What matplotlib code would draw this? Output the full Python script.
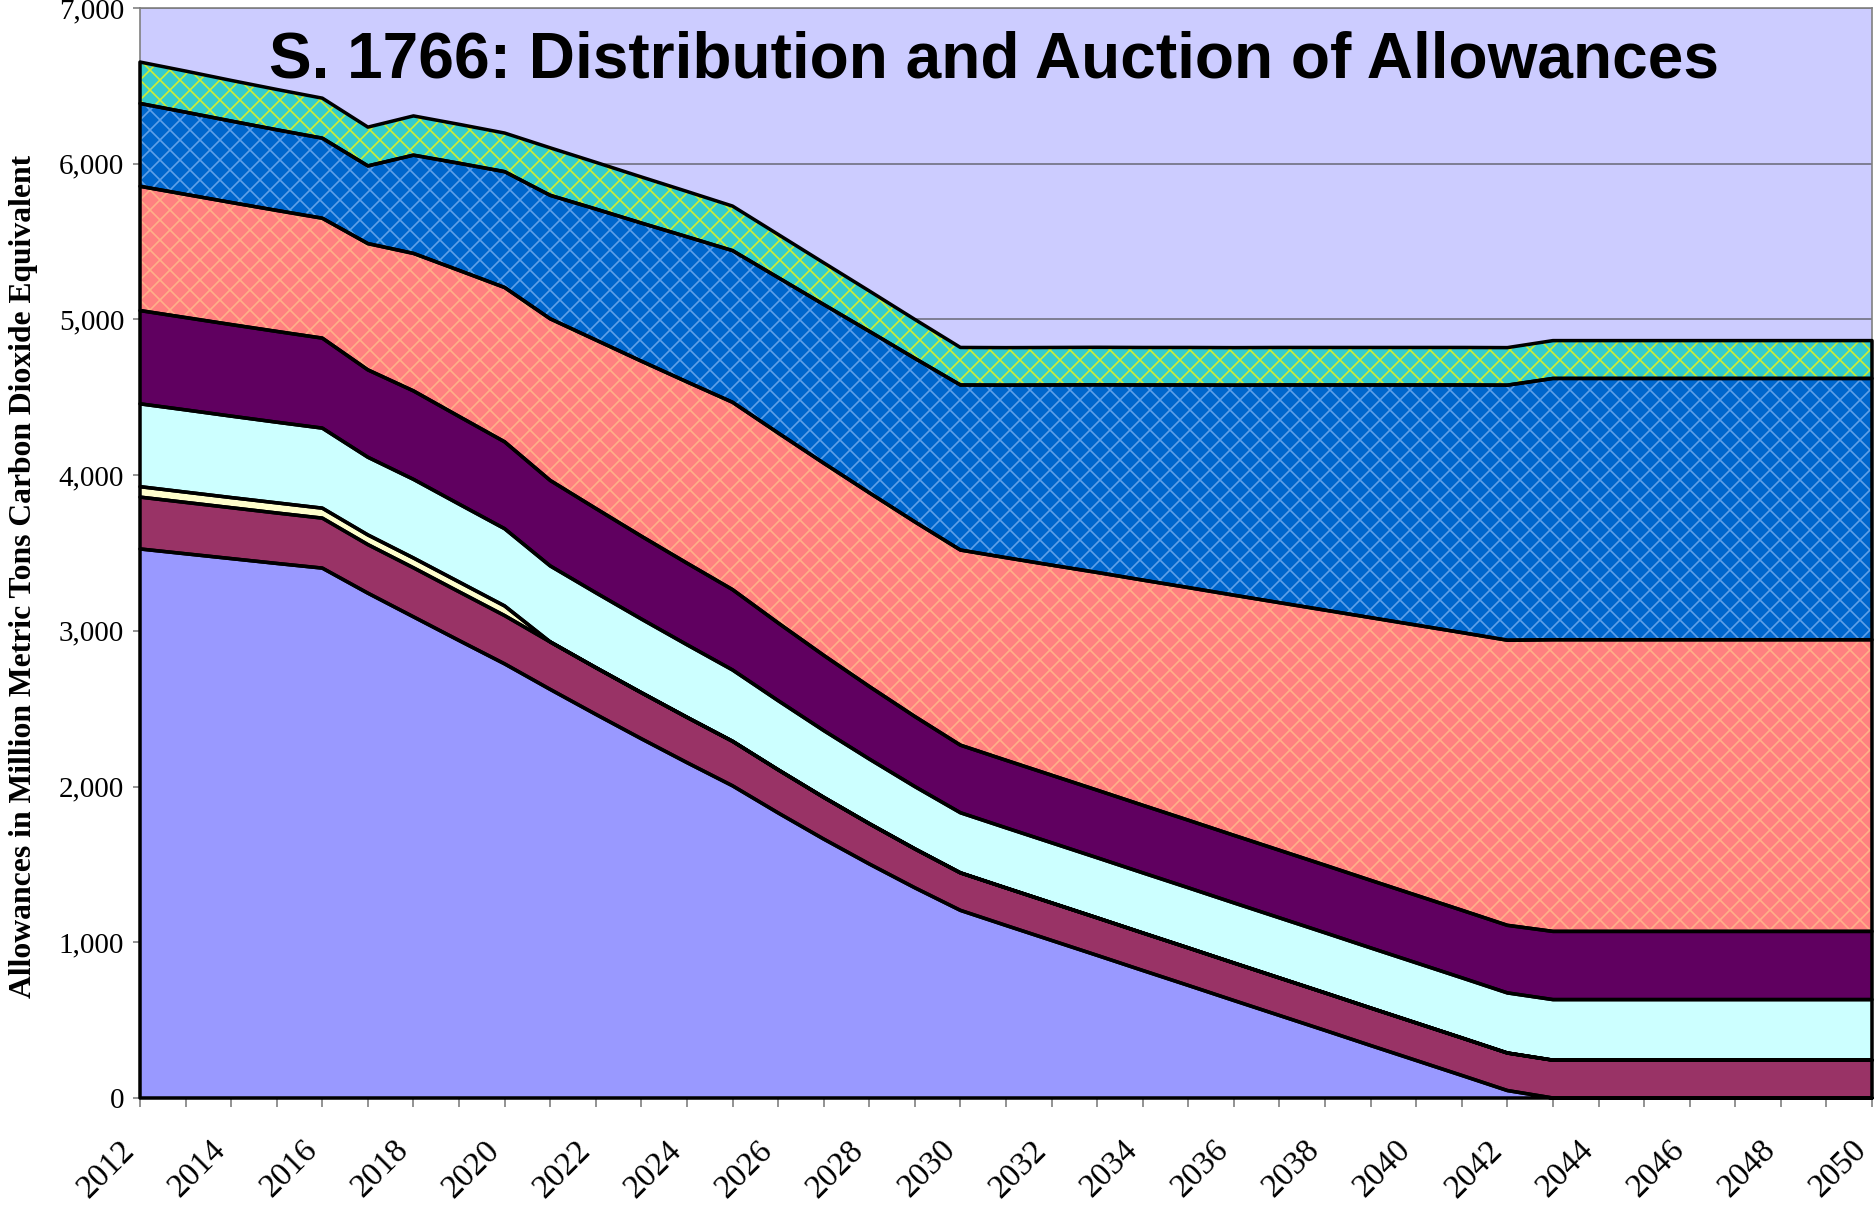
import matplotlib
matplotlib.use("Agg")
import matplotlib.pyplot as plt
import matplotlib.transforms as mtransforms
import numpy as np

years = list(range(2012, 2051))

# allowances by recipient, million metric tons CO2e, stacked bottom -> top
industry = [3526, 3495, 3464, 3433, 3403, 3242, 3090, 2938, 2788, 2624,
            2464, 2307, 2154, 2005, 1831, 1663, 1503, 1350, 1205, 1108,
            1012, 916, 819, 723, 626, 530, 434, 337, 241, 145,
            48, 0, 0, 0, 0, 0, 0, 0, 0]
agriculture = [333, 330, 327, 324, 321, 312, 315, 313, 310, 305,
               300, 296, 291, 286, 277, 268, 259, 250, 241, 241,
               241, 241, 241, 241, 241, 241, 241, 241, 241, 241,
               241, 243, 243, 243, 243, 243, 243, 243, 243]
early_action = [67, 66, 65, 65, 64, 62, 63, 63, 62, 0,
                0, 0, 0, 0, 0, 0, 0, 0, 0, 0,
                0, 0, 0, 0, 0, 0, 0, 0, 0, 0,
                0, 0, 0, 0, 0, 0, 0, 0, 0]
states = [532, 528, 523, 518, 514, 499, 505, 500, 496, 488,
          481, 473, 466, 458, 444, 429, 415, 400, 386, 386,
          386, 386, 386, 386, 386, 386, 386, 386, 386, 386,
          386, 389, 389, 389, 389, 389, 389, 389, 389]
other_free = [599, 593, 588, 583, 578, 561, 568, 563, 558, 549,
              541, 532, 524, 516, 499, 483, 466, 450, 434, 434,
              434, 434, 434, 434, 434, 434, 434, 434, 434, 434,
              434, 438, 438, 438, 438, 438, 438, 438, 438]
auction_a = [798, 791, 784, 777, 770, 811, 883, 938, 991, 1038,
             1082, 1124, 1164, 1203, 1220, 1234, 1244, 1250, 1253, 1301,
             1349, 1398, 1446, 1494, 1542, 1590, 1638, 1687, 1735, 1783,
             1831, 1873, 1873, 1873, 1873, 1873, 1873, 1873, 1873]
auction_b = [532, 528, 523, 518, 514, 499, 631, 688, 744, 793,
             841, 887, 932, 974, 998, 1019, 1037, 1050, 1060, 1108,
             1157, 1205, 1253, 1301, 1349, 1398, 1446, 1494, 1542, 1590,
             1638, 1678, 1678, 1678, 1678, 1678, 1678, 1678, 1678]
auction_c = [266, 264, 261, 259, 257, 249, 252, 250, 248, 305,
             300, 296, 291, 286, 277, 268, 259, 250, 241, 241,
             241, 241, 241, 241, 241, 241, 241, 241, 241, 241,
             241, 243, 243, 243, 243, 243, 243, 243, 243]

layers = [
    (industry, "#9999FF", None),
    (agriculture, "#993366", None),
    (early_action, "#FFFFCC", None),
    (states, "#CCFFFF", None),
    (other_free, "#600060", None),
    (auction_a, "#FF8080", "#FFB088"),
    (auction_b, "#0066CC", "#5FA0E8"),
    (auction_c, "#33CCCC", "#CCEE33"),
]

title = "S. 1766: Distribution and Auction of Allowances"
ylabel = "Allowances in Million Metric Tons Carbon Dioxide Equivalent"

plt.rcParams["hatch.linewidth"] = 1.0

DPI = 120
fig = plt.figure(figsize=(1876 / DPI, 1205 / DPI), dpi=DPI)
ax = fig.add_axes([140 / 1876, 1 - 1098 / 1205, 1732 / 1876, 1090 / 1205])
ax.set_facecolor("#CCCCFF")
ax.set_xlim(2012, 2050)
ax.set_ylim(0, 7000)

ax.set_yticks(range(0, 7001, 1000))
ax.set_yticklabels([f"{v:,}" for v in range(0, 7001, 1000)])
ax.yaxis.grid(True, color="#707080", lw=1.0)
ax.set_axisbelow(True)

x = np.array(years)
base = np.zeros(len(years))
tops = []
for vals, face, hatch_col in layers:
    top = base + np.array(vals)
    ax.fill_between(x, base, top, facecolor=face, lw=0, zorder=2)
    if hatch_col:
        ax.fill_between(x, base, top, facecolor="none", edgecolor=hatch_col,
                        hatch="xx", lw=0, zorder=2.1)
    tops.append((base.copy(), top))
    base = top

# black outlines of each area
for lo, hi in tops:
    ax.fill_between(x, lo, hi, facecolor="none", edgecolor="black",
                    lw=2.1, zorder=3, clip_on=False)

for side in ["left", "top", "right", "bottom"]:
    ax.spines[side].set_color("#808080")
    ax.spines[side].set_linewidth(1.0)

serif = "Liberation Serif"
ax.set_xticks(years)
ax.set_xticklabels([str(y) if (y - 2012) % 2 == 0 else "" for y in years])
ax.tick_params(axis="x", direction="out", length=5.5, width=1, color="#808080",
               pad=23, labelsize=20)
ax.tick_params(axis="y", direction="out", length=4.5, width=1, color="#808080",
               pad=5, labelsize=17.5)
offset = mtransforms.ScaledTranslation(-10 / DPI, 0, fig.dpi_scale_trans)
for lab in ax.get_xticklabels():
    lab.set_rotation(45)
    lab.set_ha("right")
    lab.set_va("center")
    lab.set_rotation_mode("anchor")
    lab.set_fontfamily(serif)
    lab.set_transform(lab.get_transform() + offset)
for lab in ax.get_yticklabels():
    lab.set_fontfamily(serif)

ax.text(0.493, 0.936, title, transform=ax.transAxes, ha="center", va="baseline",
        fontsize=38.4, fontweight="bold", family="Liberation Sans", zorder=5)

fig.text(24 / 1876, 1 - 576 / 1205, ylabel, rotation=90, ha="center", va="center",
         fontsize=19, fontweight="bold", family=serif)

fig.savefig("out.png", dpi=DPI)
